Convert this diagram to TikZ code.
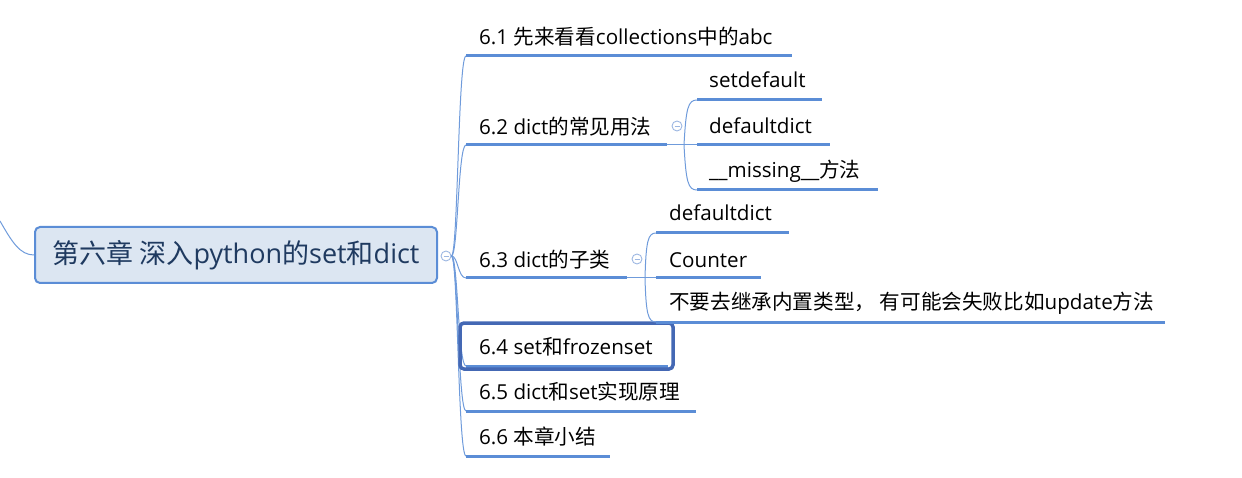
\documentclass[tikz,border=0pt]{standalone}
\usepackage{fontspec}
\setmainfont{Open Sans}
\newfontfamily\cjk{Noto Sans CJK SC}
\newcommand{\zh}[1]{{\cjk #1}}
\definecolor{ln}{HTML}{5B8DD6}
\definecolor{lnthin}{HTML}{6F9BDB}
\definecolor{rootfill}{HTML}{DCE6F2}
\definecolor{rootborder}{HTML}{5B8DD6}
\definecolor{roottext}{HTML}{1F3A60}
\definecolor{selborder}{HTML}{4468B4}
\definecolor{btn}{HTML}{9DB7E2}
\tikzset{
  ul/.style={draw=ln, line width=3pt},
  conn/.style={draw=lnthin, line width=1pt},
  lbl/.style={anchor=west, inner sep=0pt, font=\fontsize{20.6}{24}\selectfont, text=black},
  rootbox/.style={draw=rootborder, fill=rootfill, line width=2pt, rounded corners=5pt,
    minimum width=402pt, minimum height=56pt, inner sep=0pt,
    font=\fontsize{27}{31}\selectfont, text=roottext},
  btnc/.style={circle, draw=btn, fill=white, line width=0.9pt, minimum size=10pt, inner sep=0pt},
  selbox/.style={draw=selborder, line width=3.5pt, rounded corners=4pt},
}
\newcommand{\minusin}[1]{\draw[btn, line width=0.9pt] ([xshift=-2.5pt]#1.center) -- ([xshift=2.5pt]#1.center);}
\begin{document}
\begin{tikzpicture}[x=1pt,y=-1pt]
\useasboundingbox (0,0) rectangle (1242,478);
% root
\node[rootbox] (root) at (236,255) {\raisebox{-2pt}{\zh{第六章 深入}python\zh{的}set\zh{和}dict}};
\coordinate (lin) at (0,221);
\draw[conn] (lin) .. controls (12,242) and (20,255) .. (root.west);
\node[btnc] (c0) at (446,256) {};
\minusin{c0}
% main branch underline coordinates
\coordinate (b1s) at (466,56);  \coordinate (b1e) at (792,56);
\coordinate (b2s) at (466,145); \coordinate (b2e) at (667,145);
\coordinate (b3s) at (466,278); \coordinate (b3e) at (627,278);
\coordinate (b4s) at (466,366); \coordinate (b4e) at (668,366);
\coordinate (b5s) at (466,411); \coordinate (b5e) at (696,411);
\coordinate (b6s) at (466,456); \coordinate (b6e) at (610,456);
% trunk connectors
\foreach \n/\y in {1/56,2/145,3/278,4/366,5/411,6/456}{
  \draw[conn] (c0.east) .. controls (458,256) and (458,\y) .. (b\n s);
}
\foreach \n in {1,2,3,4,5,6}{ \draw[ul] (b\n s) -- (b\n e); }
% labels
\node[lbl] (t1) at (479,37) {6.1 \zh{先来看看}collections\zh{中的}abc};
\node[lbl] (t2) at (479,127) {6.2 dict\zh{的常见用法}};
\node[lbl] (t3) at (479,260) {6.3 dict\zh{的子类}};
\node[lbl] (t4) at (479,347) {6.4 set\zh{和}frozenset};
\node[lbl] (t5) at (479,392) {6.5 dict\zh{和}set\zh{实现原理}};
\node[lbl] (t6) at (479,437) {6.6 \zh{本章小结}};
% selected box
\draw[selbox] (460,323) rectangle (673,369);
% 6.2 children
\node[btnc] (c2) at (677,126) {};
\minusin{c2}
\coordinate (s2j) at (684,145);
\coordinate (s21s) at (697,100); \coordinate (s21e) at (822,100);
\coordinate (s22s) at (697,145); \coordinate (s22e) at (830,145);
\coordinate (s23s) at (697,190); \coordinate (s23e) at (878,190);
\draw[conn] (b2e) -- (s22s);
\draw[conn] (s2j) .. controls (686,108) and (688,100) .. (s21s);
\draw[conn] (s2j) .. controls (686,182) and (688,190) .. (s23s);
\foreach \n in {1,2,3}{ \draw[ul] (s2\n s) -- (s2\n e); }
\node[lbl] (u21) at (709,80) {setdefault};
\node[lbl] (u22) at (709,126) {defaultdict};
\node[lbl] (u23) at (709,171) {\_\_missing\_\_\zh{方法}};
% 6.3 children
\node[btnc] (c3) at (637,259) {};
\minusin{c3}
\coordinate (s3j) at (645,278);
\coordinate (s31s) at (656,233); \coordinate (s31e) at (789,233);
\coordinate (s32s) at (656,278); \coordinate (s32e) at (761,278);
\coordinate (s33s) at (656,322); \coordinate (s33e) at (1165,322);
\draw[conn] (b3e) -- (s32s);
\draw[conn] (s3j) .. controls (646,241) and (648,233) .. (s31s);
\draw[conn] (s3j) .. controls (646,314) and (648,322) .. (s33s);
\foreach \n in {1,2,3}{ \draw[ul] (s3\n s) -- (s3\n e); }
\node[lbl] (u31) at (669,213) {defaultdict};
\node[lbl] (u32) at (669,260) {Counter};
\node[lbl] (u33) at (669,303) {\zh{不要去继承内置类型， 有可能会失败比如}update\zh{方法}};
\end{tikzpicture}
\end{document}
